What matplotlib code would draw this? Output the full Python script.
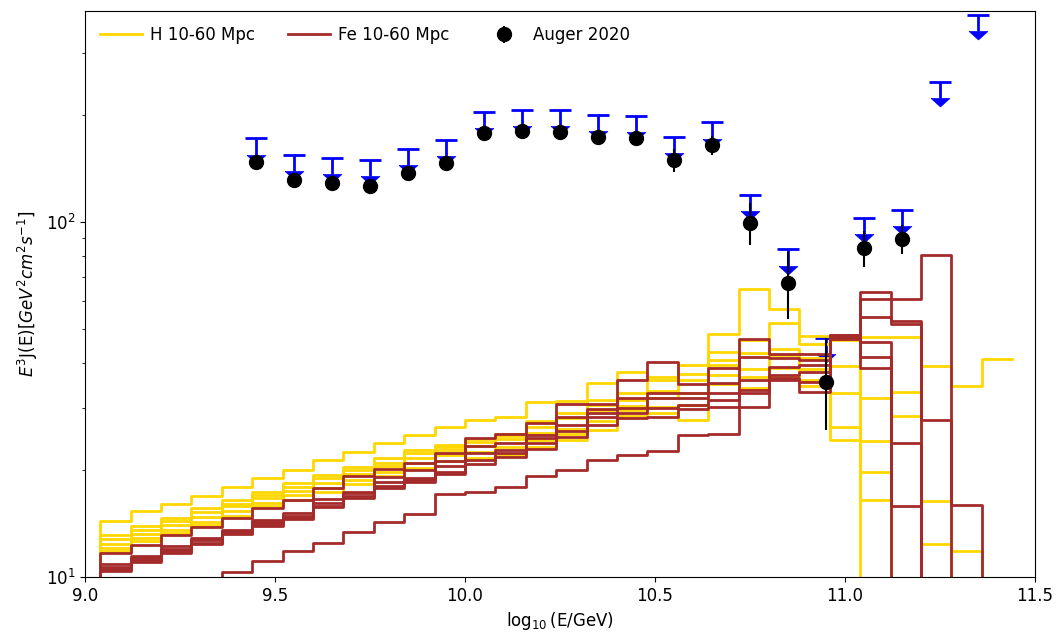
import numpy as np
import matplotlib
matplotlib.use("Agg")
import matplotlib.pyplot as plt
from matplotlib.path import Path

plt.rcParams['font.size'] = 12

# histogram bin edges (log10 E/GeV)
edges = np.round(np.arange(9.04, 11.441, 0.08), 2)

# simulated spectra, H 10-60 Mpc (several realisations)
h1 = [14.4, 15.3, 16.1, 16.9, 17.9, 19.0, 20.0, 21.4, 22.5, 23.8, 25.1, 26.5, 27.7, 28.3, 31.1,
      31.3, 35.1, 37.9, 36.6, 39.5, 48.3, 64.8, 57.0, 47.8, 47.8, 47.5, 47.5, 39.3, 34.5, 41.1]
h2 = [13.1, 13.9, 14.7, 15.6, 16.5, 17.4, 18.4, 19.4, 20.4, 21.6, 22.8, 23.6, 24.4, 25.3, 27.5,
      29.0, 31.6, 33.0, 35.9, 37.4, 42.9, 46.4, 51.8, 45.3, 46.5, 31.9, 33.2, 16.4, 11.8, 0]
h3 = [12.8, 13.6, 14.4, 15.2, 16.1, 17.0, 17.9, 19.0, 20.0, 21.0, 22.4, 23.3, 24.0, 24.9, 26.5,
      28.0, 30.5, 31.6, 33.5, 35.9, 40.9, 42.8, 43.9, 41.5, 39.3, 24.2, 28.4, 12.4, 0, 0]
h4 = [12.4, 13.2, 14.0, 14.8, 15.8, 16.7, 17.5, 18.4, 19.5, 20.5, 21.6, 22.8, 23.4, 24.4, 25.5,
      26.2, 29.5, 30.3, 31.9, 33.0, 39.5, 38.5, 42.3, 38.5, 33.0, 19.7, 0, 0, 0, 0]
h5 = [12.1, 12.85, 13.6, 14.3, 15.3, 16.2, 17.0, 17.8, 18.8, 19.8, 21.0, 22.0, 22.5, 23.2, 24.3,
      25.3, 27.5, 29.5, 30.2, 30.5, 37.0, 36.5, 38.7, 36.0, 26.4, 16.5, 0, 0, 0, 0]
h6 = [11.85, 12.6, 13.3, 14.0, 14.9, 15.8, 16.5, 17.4, 18.3, 19.2, 20.3, 21.2, 21.6, 22.0, 23.3,
      24.3, 26.0, 28.5, 29.0, 27.7, 35.0, 34.0, 36.6, 34.5, 24.3, 0, 0, 0, 0, 0]

# simulated spectra, Fe 10-60 Mpc
fe1 = [11.66, 12.3, 13.1, 13.8, 14.7, 15.6, 16.5, 17.8, 19.2, 20.2, 21.0, 22.3, 24.6, 25.3, 27.1,
       30.8, 30.8, 35.9, 40.4, 35.0, 38.7, 46.8, 42.5, 42.5, 48.2, 63.6, 60.6, 80.6, 16.0, 0]
fe2 = [10.88, 11.45, 12.2, 12.9, 13.6, 14.5, 15.1, 16.6, 17.4, 19.1, 20.0, 21.2, 23.4, 23.8, 25.1,
       28.3, 29.8, 31.9, 33.0, 33.0, 35.1, 41.7, 41.3, 40.9, 47.9, 60.6, 52.7, 27.7, 0, 0]
fe3 = [10.65, 11.29, 12.0, 12.7, 13.5, 14.3, 14.9, 16.2, 17.2, 18.5, 19.0, 20.6, 22.4, 22.8, 24.6,
       26.8, 29.0, 30.0, 32.0, 31.9, 33.0, 36.0, 39.0, 39.5, 47.6, 54.1, 51.5, 0, 0, 0]
fe4 = [10.55, 11.15, 11.8, 12.5, 13.3, 14.1, 14.8, 15.9, 16.9, 18.1, 18.8, 19.8, 21.4, 22.3, 23.8,
       25.7, 28.2, 29.0, 30.0, 30.5, 31.5, 33.7, 37.0, 37.8, 47.3, 46.0, 23.8, 0, 0, 0]
fe5 = [10.42, 11.04, 11.66, 12.4, 13.2, 13.9, 14.6, 15.7, 16.7, 17.8, 18.5, 19.5, 20.8, 21.8, 23.0,
       24.8, 26.8, 28.0, 28.3, 29.8, 30.2, 33.0, 36.3, 35.5, 47.0, 41.7, 15.8, 0, 0, 0]
fe6 = [0, 0, 0, 0, 10.3, 11.1, 11.8, 12.5, 13.4, 14.3, 15.0, 17.1, 17.4, 17.9, 19.3,
       20.0, 21.3, 22.1, 22.7, 25.1, 25.3, 30.2, 35.9, 33.2, 46.8, 38.7, 0, 0, 0, 0]

# Auger 2020 spectrum
auger_x = [9.45, 9.55, 9.65, 9.75, 9.85, 9.95, 10.05, 10.15, 10.25, 10.35, 10.45, 10.55,
           10.65, 10.75, 10.85, 10.95, 11.05, 11.15]
auger_y = [147.9, 131.3, 128.5, 126.6, 137.2, 146.3, 177.8, 180.8, 179.6, 173.9, 172.1, 149.5,
           164.8, 99.2, 67.4, 35.5, 84.3, 89.4]
auger_lo = [3, 3, 3, 3, 3, 3, 4, 4, 5, 5, 6, 11, 10, 13, 14, 9.5, 9.5, 8.2]
auger_hi = [3, 3, 3, 3, 3, 3, 4, 4, 5, 5, 6, 11, 10, 14, 15, 11.6, 10, 9]

# upper limits
ul_x = [9.45, 9.55, 9.65, 9.75, 9.85, 9.95, 10.05, 10.15, 10.25, 10.35, 10.45, 10.55,
        10.65, 10.75, 10.85, 10.95, 11.05, 11.15, 11.25, 11.35]
ul_y = [172.1, 154.4, 151.8, 149.5, 160.6, 170.2, 204.6, 206.8, 206.8, 200.2, 198.9, 173.9,
        190.9, 119.1, 83.8, 47.1, 102.8, 108.1, 248.0, 382.8]


def stepline(ax, vals, color, label=None):
    x = np.concatenate([[edges[0]], edges])
    y = np.concatenate([[0], vals, [vals[-1]]])
    ax.step(x, y, where='post', color=color, lw=2, label=label)


fig = plt.figure(figsize=(10.59, 6.37), dpi=100)
ax = fig.add_axes([0.0803, 0.0942, 0.8971, 0.8885])
ax.set_yscale('log')

for i, h in enumerate([h1, h2, h3, h4, h5, h6]):
    stepline(ax, h, 'gold', 'H 10-60 Mpc' if i == 0 else None)
for i, fe in enumerate([fe1, fe2, fe3, fe4, fe5, fe6]):
    stepline(ax, fe, 'brown', 'Fe 10-60 Mpc' if i == 0 else None)

ul_y = np.array(ul_y)
ul = ax.errorbar(ul_x, ul_y, yerr=0.1 * ul_y, uplims=True, fmt='none', ecolor='blue',
                 elinewidth=2, capsize=8, capthick=2, zorder=1.5)
# flat filled arrow heads instead of the default carets
arrow = Path([(-1.0, 0.0), (1.0, 0.0), (0.0, -0.9), (-1.0, 0.0)])
for ln in ul[1]:
    if ln.get_marker() != '_':
        ln.set_marker(arrow)
        ln.set_markersize(13.5)
        ln.set_markerfacecolor('blue')
        ln.set_markeredgecolor('blue')
        ln.set_markeredgewidth(0.5)

ax.errorbar(auger_x, auger_y, yerr=[auger_lo, auger_hi], fmt='o', color='black',
            markersize=10, elinewidth=1.5, label='Auger 2020', zorder=3)

ax.set_xlim(9, 11.5)
ax.set_ylim(10, 393)
ax.set_xlabel(r'$\log_{10}$(E/GeV)')
ax.set_ylabel(r'$E^3$J(E)$[GeV^2cm^2s^{-1}]$')
ax.legend(loc='upper left', ncol=3, frameon=False, handlelength=2.5, handletextpad=0.5)

fig.savefig('out.png', dpi=100)
